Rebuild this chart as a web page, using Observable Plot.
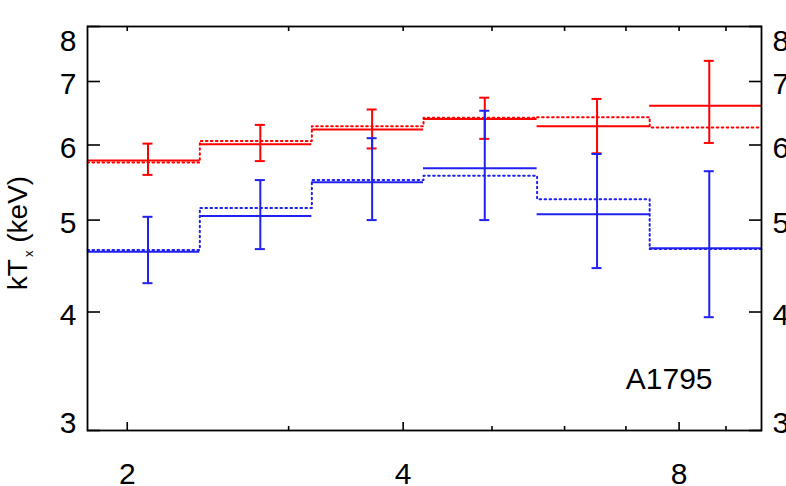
<!DOCTYPE html>
<html><head><meta charset="utf-8">
<script src="https://cdn.jsdelivr.net/npm/d3@7"></script>
<script src="https://cdn.jsdelivr.net/npm/@observablehq/plot@0.6"></script>
<style>html,body{margin:0;padding:0;background:#fff;overflow:hidden;}</style>
</head><body><div id="chart"></div>
<script>
// Radial bins (log-spaced) and bin centres
const binEdges = [1.81, 2.40, 3.18, 4.21, 5.60, 7.43, 9.84];
const binCentres = [2.107, 2.794, 3.70, 4.91, 6.51, 8.63];
// Red series (measured temperature, errors, dotted model)
const redT = [5.78, 6.01, 6.23, 6.39, 6.28, 6.60];
const redLo = [5.58, 5.77, 5.95, 6.09, 5.88, 6.03];
const redHi = [6.02, 6.30, 6.54, 6.73, 6.71, 7.36];
const redModel = [5.75, 6.06, 6.28, 6.41, 6.42, 6.26];
// Blue series
const blueT = [4.63, 5.05, 5.48, 5.67, 5.07, 4.67];
const blueLo = [4.29, 4.66, 5.00, 5.00, 4.45, 3.95];
const blueHi = [5.04, 5.51, 6.10, 6.52, 5.87, 5.63];
const blueModel = [4.65, 5.15, 5.51, 5.57, 5.26, 4.66];
// Axes
const xDomain = [1.81, 9.84];
const yDomain = [3, 8];
const xMajorTicks = [2, 4, 8];
const xMinorTicks = [3, 5, 6, 7, 9];
const yTicks = [3, 4, 5, 6, 7, 8];
const yMidLabels = [4, 5, 6, 7];
const clusterName = "A1795";

const RED = "#ff0000", BLUE = "#2020f0";
const FONT = "'Liberation Sans', Arial, Helvetica, sans-serif";
const FS = 30;

function rows(T, lo, hi) {
  return T.map((t, i) => ({x1: binEdges[i], x2: binEdges[i + 1], xc: binCentres[i], t, lo: lo[i], hi: hi[i]}));
}
function stepRows(model) {
  return binEdges.map((e, i) => ({x: e, y: model[Math.min(i, model.length - 1)]}));
}
const redRows = rows(redT, redLo, redHi);
const blueRows = rows(blueT, blueLo, blueHi);

function seriesMarks(rs, model, color) {
  return [
    Plot.line(stepRows(model), {x: "x", y: "y", curve: "step-after", stroke: color, strokeWidth: 2, strokeDasharray: "1.6,3.4"}),
    Plot.ruleY(rs, {y: "t", x1: "x1", x2: "x2", stroke: color, strokeWidth: 2}),
    Plot.ruleX(rs, {x: "xc", y1: "lo", y2: "hi", stroke: color, strokeWidth: 2}),
    Plot.ruleY(rs, {y: "lo", x1: "xc", x2: "xc", insetLeft: -5, insetRight: -5, stroke: color, strokeWidth: 2}),
    Plot.ruleY(rs, {y: "hi", x1: "xc", x2: "xc", insetLeft: -5, insetRight: -5, stroke: color, strokeWidth: 2})
  ];
}

const fmt = d => String(d);
const lab = {tickSize: 0, tickPadding: 11, tickFormat: fmt, label: null, fontSize: FS};
const chart = Plot.plot({
  width: 786, height: 486,
  marginLeft: 87, marginRight: 25, marginTop: 26, marginBottom: 56,
  style: {fontFamily: FONT, fontSize: FS + "px", background: "white", color: "black"},
  x: {type: "log", domain: xDomain, label: null},
  y: {type: "log", domain: yDomain, label: null},
  marks: [
    ...seriesMarks(redRows, redModel, RED),
    ...seriesMarks(blueRows, blueModel, BLUE),
    // ticks
    Plot.axisY(yTicks, {anchor: "left", tickSize: -13, fill: "none", strokeWidth: 1.6}),
    Plot.axisY(yTicks, {anchor: "right", tickSize: -13, fill: "none", strokeWidth: 1.6}),
    Plot.axisX(xMajorTicks, {anchor: "bottom", tickSize: -8, fill: "none", strokeWidth: 1.6}),
    Plot.axisX(xMinorTicks, {anchor: "bottom", tickSize: -4, fill: "none", strokeWidth: 1.6}),
    Plot.axisX([...xMajorTicks, ...xMinorTicks], {anchor: "top", tickSize: -4, fill: "none", strokeWidth: 1.6}),
    // tick labels
    Plot.axisY(yMidLabels, {anchor: "left", dy: 3, ...lab}),
    Plot.axisY([yDomain[1]], {anchor: "left", dy: 15, ...lab}),
    Plot.axisY([yDomain[0]], {anchor: "left", dy: -7, ...lab}),
    Plot.axisY(yMidLabels, {anchor: "right", dy: 3, ...lab}),
    Plot.axisY([yDomain[1]], {anchor: "right", dy: 15, ...lab}),
    Plot.axisY([yDomain[0]], {anchor: "right", dy: -7, ...lab}),
    Plot.axisX(xMajorTicks, {anchor: "bottom", lineAnchor: "middle", ...lab, tickPadding: 44}),
    Plot.text([clusterName], {frameAnchor: "bottom-right", textAnchor: "end", lineAnchor: "middle", dx: -49, dy: -51, fontSize: 30, fill: "black"}),
    Plot.frame({stroke: "black", strokeWidth: 1.8})
  ]
});
document.getElementById("chart").appendChild(chart);

// y-axis title with subscript
const svg = d3.select(chart);
const ylab = svg.append("text")
  .attr("transform", "translate(27,233) rotate(-90)")
  .attr("text-anchor", "middle")
  .attr("font-family", FONT)
  .attr("font-size", 28)
  .attr("fill", "black");
ylab.append("tspan").text("kT");
ylab.append("tspan").attr("font-size", 13).attr("dy", 6).attr("dx", 2).text("x");
ylab.append("tspan").attr("dy", -6).text("\u00a0(keV)");
</script></body></html>
